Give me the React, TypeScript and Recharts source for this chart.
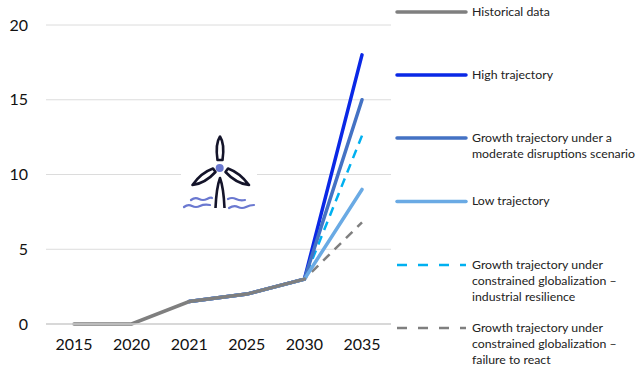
import React from "react";
import { LineChart, Line, XAxis, YAxis, CartesianGrid } from "recharts";

const years = ["2015", "2020", "2021", "2025", "2030", "2035"];
const historical = [0, 0, 1.5, 2, 3, null];
const high = [null, null, 1.5, 2, 3, 18];
const moderate = [null, null, 1.5, 2, 3, 15];
const low = [null, null, 1.5, 2, 3, 9];
const resilience = [null, null, 1.5, 2, 3, 12.6];
const failure = [null, null, 1.5, 2, 3, 6.8];
const yTicks = [0, 5, 10, 15, 20];

const data = years.map((year, i) => ({
  year,
  historical: historical[i],
  high: high[i],
  moderate: moderate[i],
  low: low[i],
  resilience: resilience[i],
  failure: failure[i],
}));

const FONT = "Lato, 'Open Sans', sans-serif";

const legendItems = [
  { y: 12, color: "#7f7f7f", width: 3.5, dash: undefined, lines: ["Historical data"] },
  { y: 75, color: "#0a28e6", width: 3.5, dash: undefined, lines: ["High trajectory"] },
  { y: 138, color: "#4472c4", width: 3.5, dash: undefined, lines: ["Growth trajectory under a", "moderate disruptions scenario"] },
  { y: 201.5, color: "#6aaae4", width: 3.5, dash: undefined, lines: ["Low trajectory"] },
  { y: 265, color: "#00b0f0", width: 2.5, dash: "10 11", lines: ["Growth trajectory under", "constrained globalization \u2013", "industrial resilience"] },
  { y: 328, color: "#7f7f7f", width: 2.5, dash: "10 11", lines: ["Growth trajectory under", "constrained globalization \u2013", "failure to react"] },
];

const LegendBlock = () => (
  <svg width={638} height={366} style={{ position: "absolute", left: 0, top: 0 }}>
    {legendItems.map((item) => (
      <g key={item.y}>
        <line x1={397} x2={466} y1={item.y} y2={item.y} stroke={item.color} strokeWidth={item.width} strokeDasharray={item.dash} strokeLinecap={item.dash ? "butt" : "round"} />
        {item.lines.map((t, i) => (
          <text key={t} x={472} y={item.y + 3.8 + i * 16.1} fontFamily={FONT} fontSize={12.3} fill="#222">{t}</text>
        ))}
      </g>
    ))}
  </svg>
);

const TurbineIcon = () => (
  <svg width={638} height={366} style={{ position: "absolute", left: 0, top: 0, pointerEvents: "none" }}>
    <rect x={181} y={170} width={76} height={10} fill="#fff" />
    <g fill="none" stroke="#14142a" strokeWidth={2.6} strokeLinejoin="round">
      <path d="M220 136.5 C217 141 216 150 217.5 160 L222.5 160 C224 150 223 141 220 136.5 Z" />
      <path d="M192.5 185 C198 177 206 171 213 168.5 L215.5 172 C210 178 201 184 192.5 185 Z" />
      <path d="M249 185 C243 177 235 171 228 168.5 L225.5 172 C231 178 240 184 249 185 Z" />
      <path d="M215.5 208 C216 197 217 186 220 178 C223 186 224 197 224.5 208" />
    </g>
    <circle cx={219.7} cy={168} r={4} fill="#6a78d0" />
    <g fill="none" stroke="#6a78d0" strokeWidth={2.2} strokeLinecap="round">
      <path d="M191 200 Q195 197 199 199 T207 199 T212 198" />
      <path d="M184 207 Q188 204 192 206 T200 206 T210 205" />
      <path d="M228 199 Q232 197 236 199 T245 200" />
      <path d="M229 208 Q234 205 238 207 T246 207 T254 205" />
    </g>
  </svg>
);

export default function App() {
  const common = { type: "linear" as const, dot: false, isAnimationActive: false, connectNulls: false };
  return (
    <div style={{ position: "absolute", left: 0, top: 0, width: 638, height: 366, background: "#fff" }}>
      <LineChart width={638} height={366} data={data} margin={{ top: 25, right: 247, bottom: 0, left: 0 }}>
        <CartesianGrid vertical={false} stroke="#dcdcdc" strokeWidth={1} />
        <XAxis dataKey="year" height={42} padding={{ left: 28, right: 29 }} axisLine={{ stroke: "#d0d0d0", strokeWidth: 1.5 }} tickLine={false} tick={{ fontFamily: FONT, fontSize: 16, fill: "#111" }} tickMargin={9} interval={0} />
        <YAxis domain={[0, 20]} ticks={yTicks} width={46} axisLine={false} tickLine={false} tick={{ fontFamily: FONT, fontSize: 16, fill: "#111" }} tickMargin={12} />
        <Line {...common} dataKey="resilience" stroke="#00b0f0" strokeWidth={2.5} strokeDasharray="9 6.5" />
        <Line {...common} dataKey="high" stroke="#0a28e6" strokeWidth={3.5} strokeLinecap="round" />
        <Line {...common} dataKey="moderate" stroke="#4472c4" strokeWidth={3.5} strokeLinecap="round" />
        <Line {...common} dataKey="failure" stroke="#7f7f7f" strokeWidth={2.5} strokeDasharray="9 7" />
        <Line {...common} dataKey="low" stroke="#6aaae4" strokeWidth={3.5} strokeLinecap="round" />
        <Line {...common} dataKey="historical" stroke="#7f7f7f" strokeWidth={3.5} strokeLinecap="round" />
      </LineChart>
      <TurbineIcon />
      <LegendBlock />
    </div>
  );
}
